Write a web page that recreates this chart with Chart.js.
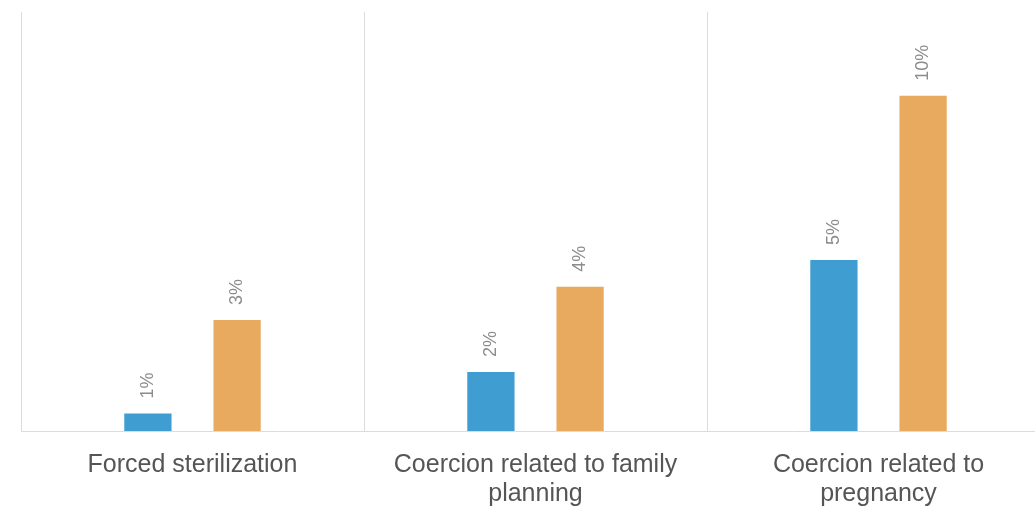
<!DOCTYPE html>
<html lang="en">
<head>
  <meta charset="UTF-8">
  <title>Coercion chart</title>
  <script src="https://cdn.jsdelivr.net/npm/chart.js"></script>
  <style>
    html, body { margin: 0; padding: 0; background: #fff; overflow: hidden; }
    .graph { width: 1050px; height: 531px; }
  </style>
</head>
<body>
  <div class="graph">
    <canvas id="barChart" width="1050" height="531"></canvas>
  </div>

<script>
  // values (labels show them rounded)
  const categorias = [
    ["Forced sterilization"],
    ["Coercion related to family", "planning"],
    ["Coercion related to", "pregnancy"]
  ];
  const serieAzul = [0.52, 1.76, 5.1];
  const serieLaranja = [3.31, 4.3, 10.0];

  // draws the rotated % labels over each bar
  const rotuloPlugin = {
    id: "rotulos",
    afterDatasetsDraw(chart) {
      const ctx = chart.ctx;
      ctx.save();
      ctx.font = "18px 'Liberation Sans', Arial, sans-serif";
      ctx.fillStyle = "#8c8c8c";
      ctx.textAlign = "left";
      ctx.textBaseline = "middle";
      chart.data.datasets.forEach(function (ds, i) {
        chart.getDatasetMeta(i).data.forEach(function (bar, j) {
          ctx.save();
          ctx.translate(bar.x, bar.y - 15);
          ctx.rotate(-Math.PI / 2);
          ctx.fillText(Math.round(ds.data[j]) + "%", 0, 0);
          ctx.restore();
        });
      });
      ctx.restore();
    }
  };

  const config = {
    type: "bar",
    data: {
      labels: categorias,
      datasets: [
        {
          label: "A",
          data: serieAzul,
          backgroundColor: "#3f9dd1",
          borderWidth: 0,
          categoryPercentage: 0.52,
          barPercentage: 0.53
        },
        {
          label: "B",
          data: serieLaranja,
          backgroundColor: "#e8aa5f",
          borderWidth: 0,
          categoryPercentage: 0.52,
          barPercentage: 0.53
        }
      ]
    },
    options: {
      responsive: false,
      animation: false,
      layout: { padding: { left: 21, right: 0, top: 12, bottom: 2 } },
      plugins: {
        legend: { display: false },
        tooltip: { enabled: false }
      },
      scales: {
        x: {
          offset: true,
          grid: { offset: true, color: "#dcdcdc", lineWidth: 1, drawTicks: false },
          border: { display: true, color: "#dcdcdc", width: 1 },
          ticks: {
            color: "#555555",
            font: { family: "'Liberation Sans', Arial, sans-serif", size: 25, lineHeight: 1.16 },
            padding: 20,
            maxRotation: 0,
            autoSkip: false
          }
        },
        y: {
          display: false,
          min: 0,
          max: 12.5
        }
      }
    },
    plugins: [rotuloPlugin]
  };

  let myChart = new Chart(document.getElementById("barChart"), config);
</script>
</body>
</html>
